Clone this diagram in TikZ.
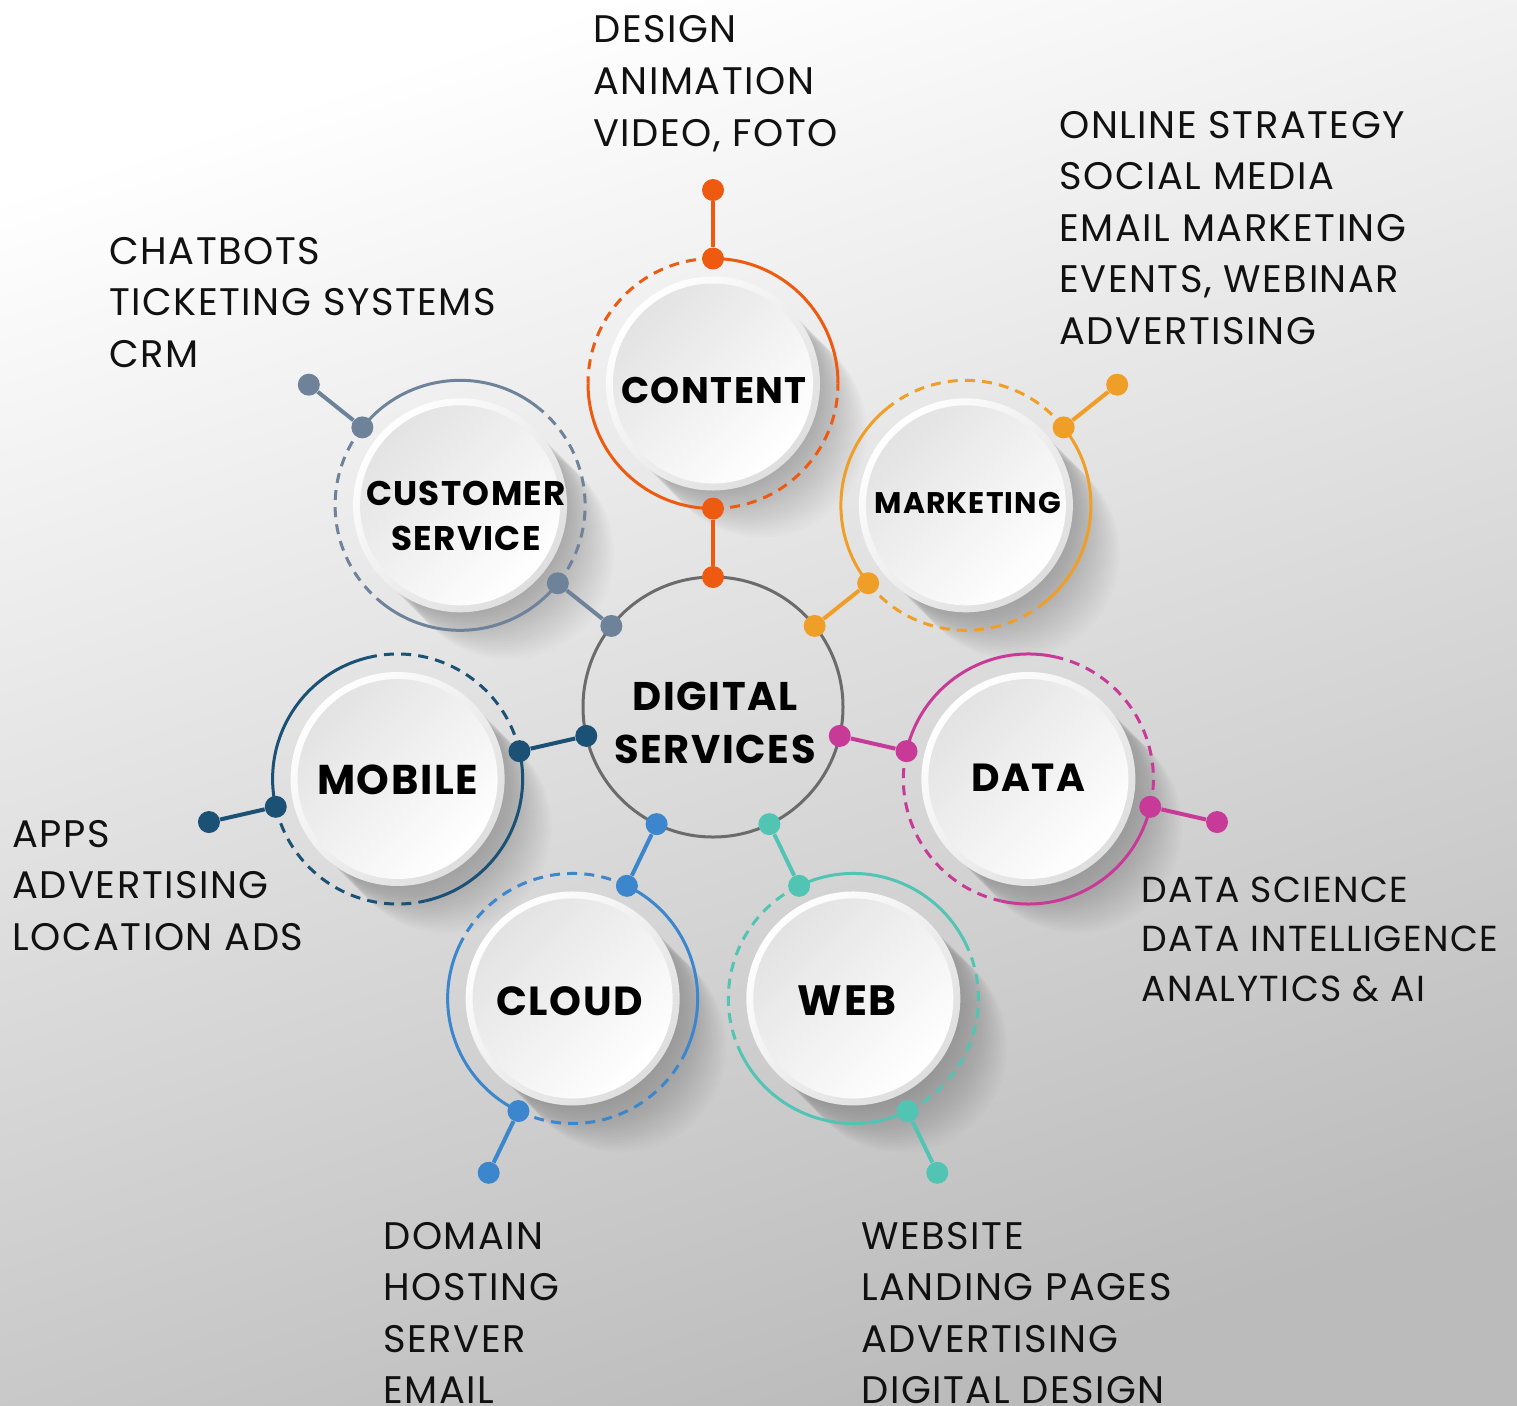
\documentclass[tikz,border=0pt]{standalone}
\usepackage{fontspec}
\setmainfont{Poppins}[LetterSpace=4]
\usetikzlibrary{calc}
\definecolor{bgbot}{HTML}{BBBBBB}
\definecolor{txt}{HTML}{111111}
\definecolor{hubgray}{HTML}{6B6B6B}
\definecolor{cA}{HTML}{EE5A10}
\definecolor{cB}{HTML}{EF9F28}
\definecolor{cC}{HTML}{C83A98}
\definecolor{cD}{HTML}{52C4B4}
\definecolor{cE}{HTML}{3B86CC}
\definecolor{cF}{HTML}{1B5174}
\definecolor{cG}{HTML}{6E8399}
\definecolor{diskA}{HTML}{E3E3E3}
\definecolor{rimB}{HTML}{DEDEDE}
\tikzset{
  sdot/.style={circle, fill=#1, draw=none, inner sep=0pt, minimum size=11pt},
  conn/.style={draw=#1, line width=2pt},
  ringsolid/.style={draw=#1, line width=1.5pt},
  ringdash/.style={draw=#1, line width=1.5pt, dash pattern=on 5pt off 3.6pt},
  lst/.style={anchor=base west, inner sep=0pt, text=txt, font=\fontsize{19.2}{26}\selectfont},
  lstsmall/.style={lst, font=\fontsize{18.1}{26}\selectfont},
  lab/.style={inner sep=0pt, align=center, text=black},
}
\begin{document}
\begin{tikzpicture}[x=0.5pt,y=0.5pt]
\useasboundingbox (0,0) rectangle (1517,-1405);
\shade[top color=white, bottom color=bgbot, shading angle=18] (0,0) rectangle (1517,-1405);

\begin{scope}[shift={(713,-707)}]
  % long shadows of the white disks
  \foreach \a in {90,38.5714,-12.8571,-64.2857,-115.7143,-167.1429,141.4286}{
    \begin{scope}[shift={(\a:323.5)}]
      \foreach \i in {1,...,20}
        \fill[black, opacity=0.012] ({\i*2.4},{-\i*2.4}) circle (106);
    \end{scope}
  }
  % rings (alternating dashed / solid quarters)
  \foreach \a/\col in {90/cA,38.5714/cB,-12.8571/cC,-64.2857/cD,-115.7143/cE,-167.1429/cF,141.4286/cG}{
    \begin{scope}[shift={(\a:323.5)}]
      \draw[ringdash=\col] (\a:125) arc[start angle=\a, end angle={\a+90}, radius=125];
      \draw[ringsolid=\col] ({\a+90}:125) arc[start angle={\a+90}, end angle={\a+180}, radius=125];
      \draw[ringdash=\col] ({\a+180}:125) arc[start angle={\a+180}, end angle={\a+270}, radius=125];
      \draw[ringsolid=\col] ({\a+270}:125) arc[start angle={\a+270}, end angle={\a+360}, radius=125];
    \end{scope}
  }
  % hub circle
  \node[circle, draw=hubgray, line width=1.5pt, minimum size=130pt, inner sep=0pt] (hub) at (0,0) {};
  % dots and connectors
  \foreach \a/\col/\k in {90/cA/0,38.5714/cB/1,-12.8571/cC/2,-64.2857/cD/3,-115.7143/cE/4,-167.1429/cF/5,141.4286/cG/6}{
    \node[sdot=\col] (hub-\k) at (\a:130) {};
    \node[sdot=\col] (in-\k) at (\a:198.5) {};
    \node[sdot=\col] (out-\k) at (\a:448.5) {};
    \node[sdot=\col] (end-\k) at (\a:517) {};
    \draw[conn=\col] (hub-\k) -- (in-\k);
    \draw[conn=\col] (out-\k) -- (end-\k);
  }
  % white disks and labels
  \foreach \a/\k/\lab/\fs/\dx/\dy in {90/0/CONTENT/18.5/1/-7,38.5714/1/MARKETING/14.9/2/2,-12.8571/2/DATA/19.6/0/1,-64.2857/3/WEB/21.2/-6/-2,-115.7143/4/CLOUD/20.3/-3/-3,-167.1429/5/MOBILE/20.8/0/-1,141.4286/6/{CUSTOMER\\SERVICE}/17.1/6/-11}{
    \begin{scope}[shift={(\a:323.5)}]
      \shade[top color=white, bottom color=rimB, shading angle=45] (0,0) circle (107);
      \shade[top color=diskA, bottom color=white, shading angle=45] (0,0) circle (100);
      \node[lab, font=\bfseries\fontsize{\fs}{22.5}\selectfont] (lab-\k) at (\dx,\dy) {\lab};
    \end{scope}
  }
  \node[lab, font=\bfseries\fontsize{20}{26.5}\selectfont] (hublab) at (2,-16) {DIGITAL\\SERVICES};
\end{scope}

% text lists
\foreach \t [count=\i] in {DESIGN,ANIMATION,{VIDEO, FOTO}}
  \node[lst] (la-\i) at (593,{-42-52*(\i-1)}) {\t};
\foreach \t [count=\i] in {ONLINE STRATEGY,SOCIAL MEDIA,EMAIL MARKETING,{EVENTS, WEBINAR},ADVERTISING}
  \node[lst] (lb-\i) at (1059,{-138-51.5*(\i-1)}) {\t};
\foreach \t [count=\i] in {CHATBOTS,TICKETING SYSTEMS,CRM}
  \node[lst] (lg-\i) at (109,{-264-51.5*(\i-1)}) {\t};
\foreach \t [count=\i] in {APPS,ADVERTISING,LOCATION ADS}
  \node[lst] (lf-\i) at (12,{-847-51.5*(\i-1)}) {\t};
\foreach \t [count=\i] in {DATA SCIENCE,DATA INTELLIGENCE,{ANALYTICS \& AI}}
  \node[lstsmall] (lc-\i) at (1141,{-902-49.5*(\i-1)}) {\t};
\foreach \t [count=\i] in {DOMAIN,HOSTING,SERVER,EMAIL}
  \node[lst] (le-\i) at (383,{-1249-51.5*(\i-1)}) {\t};
\foreach \t [count=\i] in {WEBSITE,LANDING PAGES,ADVERTISING,DIGITAL DESIGN}
  \node[lst] (ld-\i) at (861,{-1249-51.5*(\i-1)}) {\t};
\end{tikzpicture}
\end{document}
